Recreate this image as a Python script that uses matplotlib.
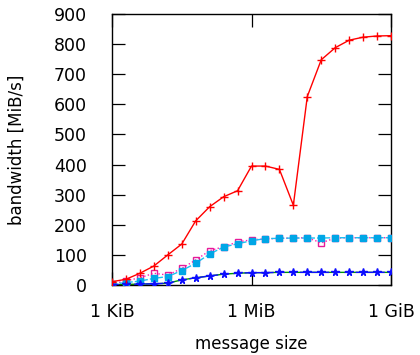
import numpy as np
import matplotlib
matplotlib.use("Agg")
import matplotlib.pyplot as plt

plt.rcParams['font.family'] = ['DejaVu Sans']

exponents = list(range(10, 31))
red_vals = [11, 19, 39, 63, 100, 136, 213, 260, 293, 313, 395, 395, 384, 265, 626, 748, 788, 813, 823, 827, 828]
blue_vals = [1, 2, 3, 4, 6, 17, 24, 30, 36, 39, 41, 41, 42, 42, 42, 42, 42, 42, 42, 42, 42]
green_vals = [1, 2, 3, 4, 6, 17, 24, 30, 36, 39, 41, 41, 42, 42, 42, 42, 42, 42, 42, 42, 42]
cyan_vals = [3, 8, 13, 22, 28, 48, 72, 103, 126, 137, 147, 154, 155, 156, 156, 156, 157, 157, 157, 157, 157]
magenta_vals = [3, 14, 24, 39, 33, 55, 83, 114, 127, 143, 150, 153, 155, 156, 157, 140, 156, 157, 157, 157, 157]
xtick_labels = ["1 KiB", "1 MiB", "1 GiB"]
ytick_vals = [0, 100, 200, 300, 400, 500, 600, 700, 800, 900]

x = [2.0 ** e for e in exponents]

fig = plt.figure(figsize=(4.2, 3.55), dpi=100)
ax = fig.add_axes([112/420, 70/355, 279/420, 271/355])

ax.plot(x, green_vals, color=(0.0, 0.6, 0.0), lw=1.0, ls='-', zorder=2)
ax.plot(x, magenta_vals, color=(1.0, 0.1, 0.7), lw=1.0, ls=':', marker='s',
        ms=5, mfc='none', mec=(0.9, 0.1, 0.6), mew=1.0, zorder=3)
ax.plot(x, cyan_vals, color=(0.1, 0.75, 0.95), lw=1.0, ls=(0, (4, 1.5)), marker='s',
        ms=5, mfc=(0.0, 0.65, 0.9), mec=(0.0, 0.65, 0.9), zorder=4)
ax.plot(x, blue_vals, color=(0.05, 0.05, 1.0), lw=1.0, ls=(0, (5, 3)), marker='*',
        ms=5.5, mfc=(0.05, 0.05, 1.0), mec=(0.05, 0.05, 1.0), zorder=5)
ax.plot(x, red_vals, color=(1.0, 0.0, 0.0), lw=1.0, ls='-', marker='+',
        ms=6, mew=1.0, zorder=6)

ax.set_xscale('log', base=2)
ax.set_xlim(2.0 ** 10, 2.0 ** 30)
ax.set_ylim(0, 900)
ax.set_xticks([2.0 ** 10, 2.0 ** 20, 2.0 ** 30])
ax.set_xticklabels(xtick_labels)
ax.minorticks_off()
ax.set_yticks(ytick_vals)
ax.set_yticklabels([str(v) for v in ytick_vals])

ax.tick_params(direction='in', length=9.5, width=0.9, top=True, right=True,
               labelsize=12.5)
ax.tick_params(axis='x', pad=13)
ax.tick_params(axis='y', pad=18)
for s in ax.spines.values():
    s.set_linewidth(1.0)

ax.set_xlabel("message size", fontsize=12, labelpad=10)
ax.set_ylabel("bandwidth [MiB/s]", fontsize=12)
ax.yaxis.set_label_coords(-0.308, 0.5)

fig.savefig("out.png", dpi=100)
